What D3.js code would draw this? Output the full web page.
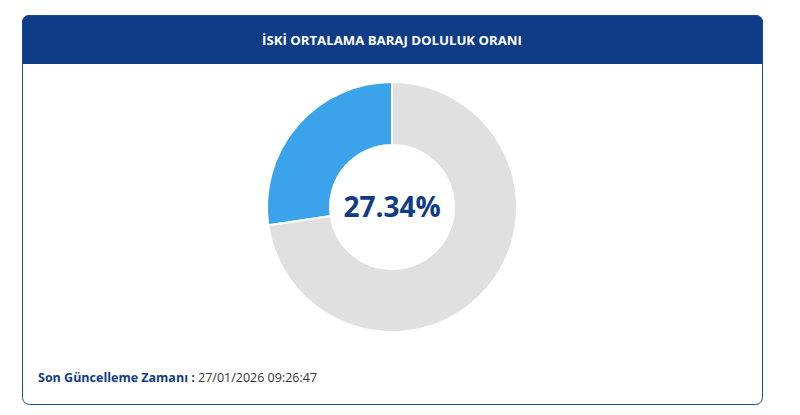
<!DOCTYPE html>
<html><head><meta charset="utf-8">
<script src="https://cdn.jsdelivr.net/npm/d3@7"></script>
<style>body{margin:0;background:#fff;font-family:"Open Sans",sans-serif}</style>
</head><body><svg id="c" width="800" height="415"></svg>
<script>
const title = "İSKİ ORTALAMA BARAJ DOLULUK ORANI";
const labels = ["Doluluk", "Boş"];
const values = [27.34, 72.66];
const colors = ["#3aa3ec", "#e0e0e0"];
const footLabel = "Son Güncelleme Zamanı : ";
const footValue = "27/01/2026 09:26:47";

const svg = d3.select("#c");
svg.append("defs").append("clipPath").attr("id","cp").append("rect")
  .attr("x",22).attr("y",15).attr("width",741).attr("height",390).attr("rx",7);
const g = svg.append("g").attr("clip-path","url(#cp)");
g.append("rect").attr("x",22).attr("y",15).attr("width",741).attr("height",390).attr("fill","#fff");
g.append("rect").attr("x",22).attr("y",15).attr("width",741).attr("height",49).attr("fill","#0f3c87");
svg.append("rect").attr("x",22.5).attr("y",15.5).attr("width",740).attr("height",389).attr("rx",7)
  .attr("fill","none").attr("stroke","#1c4a9a").attr("stroke-width",1);
svg.append("text").attr("x",392).attr("y",45).attr("text-anchor","middle").attr("fill","#fff")
  .attr("font-size",13.2).attr("font-weight","bold").text(title);

const pie = d3.pie().sort(null).startAngle(0).endAngle(-2*Math.PI)(values);
const arc = d3.arc().innerRadius(62).outerRadius(125);
const cg = svg.append("g").attr("transform","translate(392,207)");
cg.selectAll("path").data(pie).join("path").attr("d",arc)
  .attr("fill",(d,i)=>colors[i]).attr("stroke","#fff").attr("stroke-width",2);
cg.append("text").attr("text-anchor","middle").attr("dy","0.36em").attr("fill","#0f3c87")
  .attr("font-size",28).attr("font-weight","bold").text(values[0].toFixed(2)+"%");

const ft = svg.append("text").attr("x",38).attr("y",382).attr("font-size",12.5).attr("fill","#0f3c87");
ft.append("tspan").attr("font-weight","bold").text(footLabel);
ft.append("tspan").attr("fill","#333").text(footValue);
</script></body></html>
